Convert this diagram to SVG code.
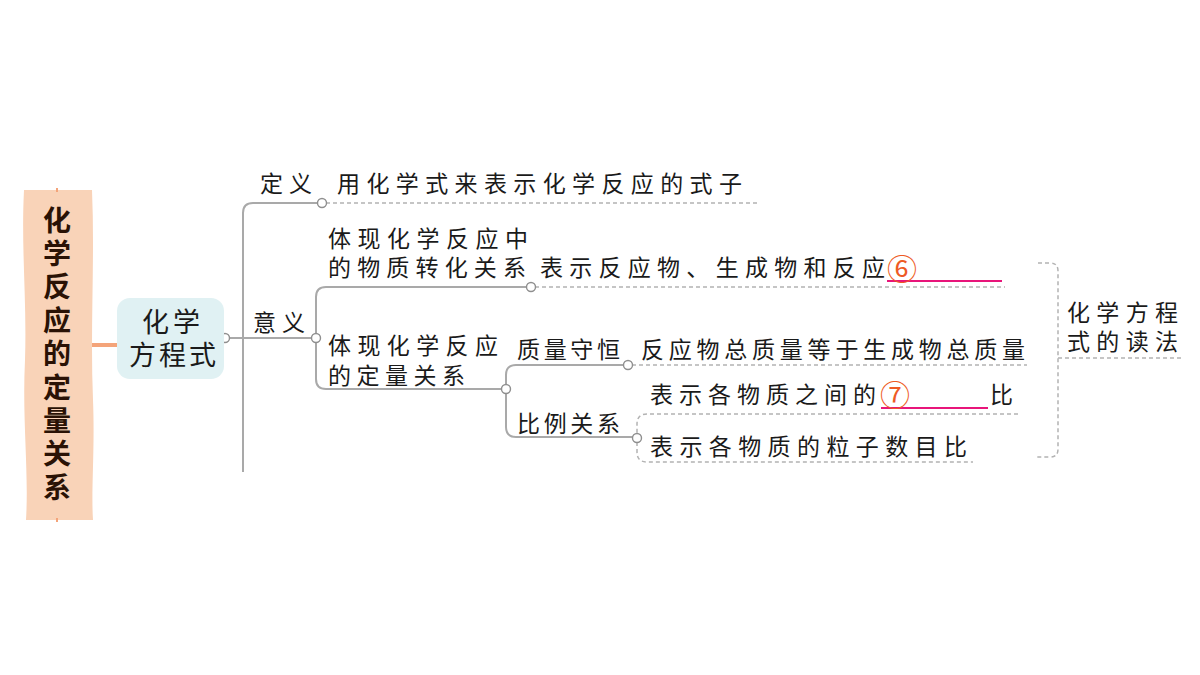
<svg xmlns="http://www.w3.org/2000/svg" width="1200" height="675" viewBox="0 0 1200 675">
<style>
.t{font-family:"Liberation Sans","Noto Sans CJK SC",sans-serif;font-size:23px;fill:#1a1a1a;dominant-baseline:central}
.ln{fill:none;stroke:#a9a9a9;stroke-width:2}
.ds{fill:none;stroke:#b3b3b3;stroke-width:1.5;stroke-dasharray:4 3}
.dot{fill:#fff;stroke:#8f8f8f;stroke-width:1.4}
.pk{stroke:#e8157a;stroke-width:2}
.num{font-family:"Noto Sans CJK SC",sans-serif;font-size:30px;fill:#ee5a24;dominant-baseline:central;text-anchor:middle}
.ban{font-family:"Noto Sans CJK SC",sans-serif;font-size:28px;font-weight:bold;fill:#2a1205;writing-mode:vertical-rl;letter-spacing:5.4px}
</style>
<rect width="1200" height="675" fill="#fff"/>
<g id="banner">
<path d="M24,190 H92 C95,260 90,330 93,400 C95,450 91,490 93,520 H26 C29,470 22,420 25,360 C27,300 21,250 24,190 Z" fill="#f9d3b8"/>
<line x1="57" y1="188" x2="57" y2="192" stroke="#f4a47a" stroke-width="2"/>
<line x1="57" y1="518" x2="57" y2="522" stroke="#f4a47a" stroke-width="2"/>
<text class="ban" x="57" y="206">化学反应的定量关系</text>
</g>
<g id="connectors">
<line x1="92" y1="345" x2="117" y2="345" stroke="#f4a47a" stroke-width="4"/>
<path class="ln" d="M229,338 H312"/>
<path class="ln" d="M318,203 H253 Q243,203 243,213 V472"/>
<path class="ln" d="M527,287 H326 Q316,287 316,297 V379 Q316,389 326,389 H502"/>
<path class="ln" d="M624,365 H516 Q506,365 506,375 V427 Q506,437 516,437 H633"/>
<path class="ds" d="M326,203 H760"/>
<path class="ds" d="M535,287 H1005"/>
<path class="ds" d="M632,365 H1027"/>
<path class="ds" d="M1018,414 H647 Q637,414 637,424 V433 M637,442 V452 Q637,462 647,462 H973"/>
<path class="ds" d="M1038,263 H1050 Q1058,263 1058,271 V449 Q1058,457 1050,457 H1037"/>
<path class="ds" d="M1058,358 H1182"/>
<line class="pk" x1="887" y1="281" x2="1002" y2="281"/>
<line class="pk" x1="881" y1="408" x2="988" y2="408"/>
<circle class="dot" cx="225" cy="338" r="4.5"/>
<circle class="dot" cx="322" cy="203" r="4.5"/>
<circle class="dot" cx="316" cy="338" r="4.5"/>
<circle class="dot" cx="531" cy="287" r="4.5"/>
<circle class="dot" cx="506" cy="389" r="4.5"/>
<circle class="dot" cx="628" cy="365" r="4.5"/>
<circle class="dot" cx="637" cy="438" r="4.5"/>
</g>
<g id="root">
<rect x="117" y="298" width="107" height="81" rx="13" fill="#e0f1f3"/>
<text class="t" style="font-size:27px"><tspan x="142" y="323" textLength="58" lengthAdjust="spacing">化学</tspan><tspan x="129" y="356" textLength="87" lengthAdjust="spacing">方程式</tspan></text>
</g>
<g id="n-dingyi">
<text class="t" x="260" y="184" textLength="52" lengthAdjust="spacing">定义</text>
<text class="t" x="337" y="184" textLength="405" lengthAdjust="spacing">用化学式来表示化学反应的式子</text>
</g>
<g id="n-yiyi">
<text class="t" x="253" y="323" textLength="52" lengthAdjust="spacing">意义</text>
</g>
<g id="n-zhuanhua">
<text class="t"><tspan x="328" y="239" textLength="200" lengthAdjust="spacing">体现化学反应中</tspan><tspan x="328" y="268" textLength="198" lengthAdjust="spacing">的物质转化关系</tspan></text>
<text class="t" x="540" y="268" textLength="345" lengthAdjust="spacing">表示反应物、生成物和反应</text>
<text class="num" x="902" y="267">⑥</text>
</g>
<g id="n-dingliang">
<text class="t"><tspan x="328" y="346" textLength="170" lengthAdjust="spacing">体现化学反应</tspan><tspan x="328" y="376" textLength="137" lengthAdjust="spacing">的定量关系</tspan></text>
</g>
<g id="n-zhiliang">
<text class="t" x="517" y="350" textLength="103" lengthAdjust="spacing">质量守恒</text>
<text class="t" x="641" y="350" textLength="384" lengthAdjust="spacing">反应物总质量等于生成物总质量</text>
</g>
<g id="n-bili">
<text class="t" x="517" y="424" textLength="103" lengthAdjust="spacing">比例关系</text>
<text class="t" x="650" y="395" textLength="226" lengthAdjust="spacing">表示各物质之间的</text>
<text class="num" x="895" y="393">⑦</text>
<text class="t" x="990" y="395">比</text>
<text class="t" x="650" y="447" textLength="317" lengthAdjust="spacing">表示各物质的粒子数目比</text>
</g>
<g id="n-dufa">
<text class="t"><tspan x="1067" y="313" textLength="111" lengthAdjust="spacing">化学方程</tspan><tspan x="1067" y="342" textLength="111" lengthAdjust="spacing">式的读法</tspan></text>
</g>
</svg>
